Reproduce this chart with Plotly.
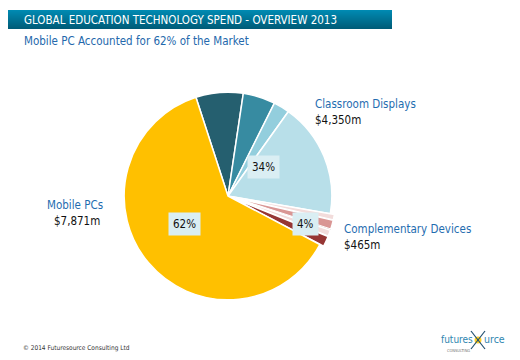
import plotly.graph_objects as go

# ---- data ----
groups = ["Mobile PCs", "Classroom Displays", "Complementary Devices"]
group_values = [7871, 4350, 465]          # $m
group_value_labels = ["$7,871m", "$4,350m", "$465m"]

# sub-segment sizes
classroom_parts = [930, 634, 317, 2256]
complementary_parts = [110, 180, 14, 120, 210]
mobile_parts = [7871]

classroom_colors = ["#255F6F", "#378BA1", "#93CEDD", "#B8DFE9"]
complementary_colors = ["#F2DCDB", "#D99694", "#7A3A3A", "#F2DCDB", "#963634"]
mobile_colors = ["#FFC000"]

title = "GLOBAL EDUCATION TECHNOLOGY SPEND - OVERVIEW 2013"
subtitle = "Mobile PC Accounted for 62% of the Market"
footer = "© 2014 Futuresource Consulting Ltd"

FONT = "DejaVu Sans Condensed, Roboto, DejaVu Sans, sans-serif"

# page has an 8px body margin; figure occupies 512x352 of the 520x360 window
OFF = 8
W, H = 520 - OFF, 360 - OFF


def X(px):
    return (px - OFF) / W


def Y(py):
    return 1 - (py - OFF) / H


values = classroom_parts + complementary_parts + mobile_parts
colors = classroom_colors + complementary_colors + mobile_colors
pulls = [0] * len(classroom_parts) + [0.04] * len(complementary_parts) + [0] * len(mobile_parts)
names = ([f"Classroom Displays {i+1}" for i in range(len(classroom_parts))]
         + [f"Complementary Devices {i+1}" for i in range(len(complementary_parts))]
         + ["Mobile PCs"])
lw = [1.5] * len(values)
lw[len(classroom_parts) + 2] = 0.5

cx, cy, half = 228, 196, 108
fig = go.Figure()
fig.add_trace(go.Pie(
    labels=names, values=values, sort=False, direction="clockwise", rotation=-18,
    marker=dict(colors=colors, line=dict(color="white", width=lw)),
    pull=pulls, textinfo="none", hoverinfo="none", showlegend=False,
    domain=dict(x=[X(cx - half), X(cx + half)], y=[Y(cy + half), Y(cy - half)]),
))

total = sum(group_values)
pcts = [f"{round(v / total * 100)}%" for v in group_values]

ann = []
# percentage boxes
pct_pos = [(168, 224), (263, 167), (305, 224)]
for p, (px, py) in zip(pcts, pct_pos):
    ann.append(dict(x=X(px), y=Y(py), xref="paper", yref="paper", text=p,
                    showarrow=False, bgcolor="#DAEEF3", borderpad=4,
                    font=dict(family=FONT, size=11.5, color="#111111")))
# category labels
cat_pos = [(105, 205, "right"), (313, 104, "left"), (342, 229, "left")]
for g, vl, (px, py, anc) in zip(groups, group_value_labels, cat_pos):
    ann.append(dict(x=X(px), y=Y(py), xref="paper", yref="paper", text=g,
                    showarrow=False, xanchor=anc, yanchor="middle",
                    font=dict(family=FONT, size=11.5, color="#1F6DB0")))
    ann.append(dict(x=X(px - (3 if anc == "right" else 0)), y=Y(py + 16),
                    xref="paper", yref="paper", text=vl,
                    showarrow=False, xanchor=anc, yanchor="middle",
                    font=dict(family=FONT, size=11.5, color="#111111")))
# titles
ann.append(dict(x=X(22), y=Y(19.5), xref="paper", yref="paper", text=title,
                showarrow=False, xanchor="left", yanchor="middle",
                font=dict(family=FONT, size=11.5, color="white")))
ann.append(dict(x=X(22), y=Y(41), xref="paper", yref="paper", text=subtitle,
                showarrow=False, xanchor="left", yanchor="middle",
                font=dict(family=FONT, size=11.5, color="#2468AC")))
ann.append(dict(x=X(21), y=Y(348), xref="paper", yref="paper", text=footer,
                showarrow=False, xanchor="left", yanchor="middle",
                font=dict(family=FONT, size=6.5, color="#333333")))
# logo text
sx, sy = 478, 340
ann.append(dict(x=X(sx - 3.5), y=Y(339), xref="paper", yref="paper", text="futures",
                showarrow=False, xanchor="right", yanchor="middle",
                font=dict(family=FONT, size=10, color="#2E86B0")))
ann.append(dict(x=X(sx + 3.5), y=Y(339), xref="paper", yref="paper", text="urce",
                showarrow=False, xanchor="left", yanchor="middle",
                font=dict(family=FONT, size=10.5, color="#2E86B0")))
ann.append(dict(x=X(445), y=Y(350), xref="paper", yref="paper", text="CONSULTING",
                showarrow=False, xanchor="left", yanchor="middle",
                font=dict(family=FONT, size=4, color="#777777")))

shapes = []
# header gradient bar
top_rgb = (0, 138, 178)
bot_rgb = (0, 92, 120)
n = 19
for i in range(n):
    t = i / (n - 1)
    c = tuple(int(top_rgb[k] + (bot_rgb[k] - top_rgb[k]) * t) for k in range(3))
    shapes.append(dict(type="rect", xref="paper", yref="paper",
                       x0=X(0), x1=X(392), y0=Y(10 + i + 1), y1=Y(10 + i),
                       fillcolor=f"rgb{c}", line=dict(width=0), layer="below"))
# logo star
shapes.append(dict(type="circle", xref="paper", yref="paper", x0=X(sx - 3.5), y0=Y(sy + 3.5),
                   x1=X(sx + 3.5), y1=Y(sy - 3.5), fillcolor="rgba(255,200,0,0.85)",
                   line=dict(width=0)))
shapes.append(dict(type="line", xref="paper", yref="paper", x0=X(sx - 7), y0=Y(sy - 9),
                   x1=X(sx + 7), y1=Y(sy + 9), line=dict(color="#1F4F6F", width=1.2)))
shapes.append(dict(type="line", xref="paper", yref="paper", x0=X(sx + 7), y0=Y(sy - 9),
                   x1=X(sx - 7), y1=Y(sy + 9), line=dict(color="#1F4F6F", width=1.2)))

fig.update_layout(width=W, height=H, margin=dict(l=0, r=0, t=0, b=0),
                  paper_bgcolor="white", plot_bgcolor="white",
                  annotations=ann, shapes=shapes)
fig.write_html("out.html")
